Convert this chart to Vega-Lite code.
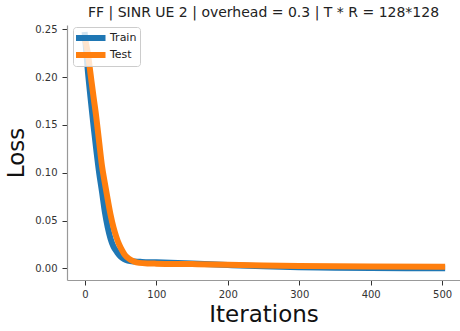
{
  "$schema": "https://vega.github.io/schema/vega-lite/v6.json",
  "width": 393,
  "height": 255,
  "autosize": {"type": "none"},
  "padding": {"left": 67, "top": 25, "right": 0, "bottom": 51},
  "background": "white",
  "title": {
    "text": "FF | SINR UE 2 | overhead = 0.3 | T * R = 128*128",
    "fontSize": 14,
    "font": "DejaVu Sans",
    "fontWeight": "normal",
    "color": "#222",
    "anchor": "middle",
    "baseline": "bottom",
    "frame": "group",
    "offset": -11
  },
  "config": {
    "view": {"stroke": null},
    "font": "DejaVu Sans",
    "axis": {
      "grid": false,
      "domainColor": "#999",
      "domainWidth": 1.2,
      "tickColor": "#333",
      "tickSize": 5,
      "labelFont": "DejaVu Sans",
      "labelFontSize": 10,
      "labelColor": "#333",
      "titleFont": "DejaVu Sans",
      "titleFontSize": 23,
      "titleFontWeight": "normal",
      "titleColor": "#111"
    }
  },
  "data": {
    "values": [
      {"series": "Train", "iter": 0, "loss": 0.244},
      {"series": "Train", "iter": 4, "loss": 0.208},
      {"series": "Train", "iter": 8, "loss": 0.178},
      {"series": "Train", "iter": 12, "loss": 0.150},
      {"series": "Train", "iter": 16, "loss": 0.124},
      {"series": "Train", "iter": 20, "loss": 0.100},
      {"series": "Train", "iter": 24, "loss": 0.080},
      {"series": "Train", "iter": 28, "loss": 0.059},
      {"series": "Train", "iter": 32, "loss": 0.043},
      {"series": "Train", "iter": 36, "loss": 0.031},
      {"series": "Train", "iter": 40, "loss": 0.023},
      {"series": "Train", "iter": 45, "loss": 0.017},
      {"series": "Train", "iter": 50, "loss": 0.0125},
      {"series": "Train", "iter": 55, "loss": 0.0098},
      {"series": "Train", "iter": 60, "loss": 0.0082},
      {"series": "Train", "iter": 70, "loss": 0.0072},
      {"series": "Train", "iter": 80, "loss": 0.0068},
      {"series": "Train", "iter": 100, "loss": 0.0064},
      {"series": "Train", "iter": 150, "loss": 0.0052},
      {"series": "Train", "iter": 200, "loss": 0.0036},
      {"series": "Train", "iter": 250, "loss": 0.0022},
      {"series": "Train", "iter": 300, "loss": 0.0013},
      {"series": "Train", "iter": 350, "loss": 0.0008},
      {"series": "Train", "iter": 400, "loss": 0.0005},
      {"series": "Train", "iter": 450, "loss": 0.0003},
      {"series": "Train", "iter": 500, "loss": 0.0002},
      {"series": "Test", "iter": 0, "loss": 0.240},
      {"series": "Test", "iter": 4, "loss": 0.226},
      {"series": "Test", "iter": 8, "loss": 0.203},
      {"series": "Test", "iter": 12, "loss": 0.180},
      {"series": "Test", "iter": 16, "loss": 0.158},
      {"series": "Test", "iter": 20, "loss": 0.132},
      {"series": "Test", "iter": 24, "loss": 0.107},
      {"series": "Test", "iter": 28, "loss": 0.089},
      {"series": "Test", "iter": 32, "loss": 0.072},
      {"series": "Test", "iter": 36, "loss": 0.056},
      {"series": "Test", "iter": 40, "loss": 0.043},
      {"series": "Test", "iter": 44, "loss": 0.033},
      {"series": "Test", "iter": 48, "loss": 0.025},
      {"series": "Test", "iter": 52, "loss": 0.019},
      {"series": "Test", "iter": 56, "loss": 0.014},
      {"series": "Test", "iter": 62, "loss": 0.010},
      {"series": "Test", "iter": 68, "loss": 0.0075},
      {"series": "Test", "iter": 76, "loss": 0.0058},
      {"series": "Test", "iter": 90, "loss": 0.0052},
      {"series": "Test", "iter": 100, "loss": 0.0050},
      {"series": "Test", "iter": 150, "loss": 0.0045},
      {"series": "Test", "iter": 200, "loss": 0.0038},
      {"series": "Test", "iter": 250, "loss": 0.0031},
      {"series": "Test", "iter": 300, "loss": 0.0026},
      {"series": "Test", "iter": 400, "loss": 0.0021},
      {"series": "Test", "iter": 500, "loss": 0.0018}
    ]
  },
  "mark": {"type": "line", "strokeWidth": 6, "interpolate": "monotone", "strokeCap": "square"},
  "encoding": {
    "x": {
      "field": "iter",
      "type": "quantitative",
      "scale": {"domain": [-25, 525], "nice": false, "zero": false},
      "axis": {"values": [0, 100, 200, 300, 400, 500], "title": "Iterations", "labelPadding": 4, "titlePadding": 4}
    },
    "y": {
      "field": "loss",
      "type": "quantitative",
      "scale": {"domain": [-0.0121, 0.2545], "nice": false, "zero": false},
      "axis": {"values": [0, 0.05, 0.1, 0.15, 0.2, 0.25], "format": ".2f", "title": "Loss", "labelPadding": 5, "titlePadding": 6}
    },
    "color": {
      "field": "series",
      "type": "nominal",
      "scale": {"domain": ["Train", "Test"], "range": ["#1f77b4", "#ff7f0e"]},
      "legend": {
        "title": null,
        "orient": "none",
        "legendX": 6,
        "legendY": 2,
        "symbolType": "M-6,0H6",
        "symbolSize": 25,
        "symbolStrokeWidth": 6,
        "symbolOffset": 9,
        "clipHeight": 16,
        "labelFontSize": 11,
        "labelFont": "DejaVu Sans",
        "labelColor": "#222",
        "labelOffset": 14,
        "rowPadding": 1,
        "padding": 3,
        "fillColor": "rgba(255,255,255,0.8)",
        "strokeColor": "#ccc",
        "cornerRadius": 3
      }
    }
  }
}
